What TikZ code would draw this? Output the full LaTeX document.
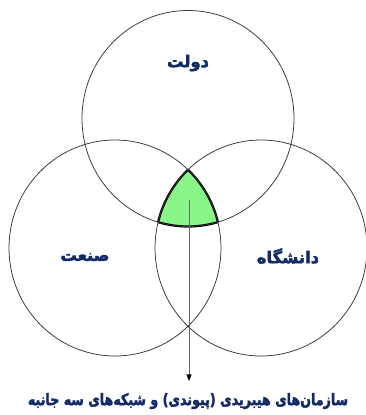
\documentclass[tikz,border=0pt]{standalone}
\usepackage{fontspec}
\usepackage{xcolor}
\usepackage{tikz}
\usetikzlibrary{arrows.meta, positioning}
\TeXXeTstate=1
\newfontfamily\arabicfont[Script=Arabic, BoldFeatures={FakeBold=2.5}]{DejaVu Sans}
\definecolor{labelInk}{RGB}{18,42,102}
\definecolor{coreFill}{RGB}{136,246,136}
\definecolor{ringLine}{RGB}{55,55,55}
\tikzset{
  ring/.style={draw=ringLine, line width=0.65pt},
  core/.style={fill=coreFill},
  coreEdge/.style={draw=black, line width=1.9pt},
  sector/.style={font=\arabicfont\bfseries\fontsize{14}{16}\selectfont, text=labelInk, inner sep=1pt},
  caption/.style={font=\arabicfont\bfseries\fontsize{13.5}{16}\selectfont, text=labelInk, inner sep=1pt},
  pointer/.style={-{Triangle[length=2mm,width=1.5mm,black]}, draw=black!60, line width=0.6pt}
}

\begin{document}
\begin{tikzpicture}[x=0.03cm, y=-0.03cm]
  \useasboundingbox (0,0) rectangle (366,415);

  \coordinate (govC) at (188,118.5);
  \coordinate (indC) at (115,248);
  \coordinate (uniC) at (261,248);
  \def\ringRx{106}
  \def\ringRy{108}

  % overlap of all three
  \begin{scope}
    \clip (govC) ellipse ({\ringRx} and {\ringRy});
    \clip (indC) ellipse ({\ringRx} and {\ringRy});
    \fill[core] (uniC) ellipse ({\ringRx} and {\ringRy});
  \end{scope}
  \begin{scope}
    \clip (indC) ellipse ({\ringRx} and {\ringRy});
    \clip (uniC) ellipse ({\ringRx} and {\ringRy});
    \draw[coreEdge] (govC) ellipse ({\ringRx} and {\ringRy});
  \end{scope}
  \begin{scope}
    \clip (govC) ellipse ({\ringRx} and {\ringRy});
    \clip (uniC) ellipse ({\ringRx} and {\ringRy});
    \draw[coreEdge] (indC) ellipse ({\ringRx} and {\ringRy});
  \end{scope}
  \begin{scope}
    \clip (govC) ellipse ({\ringRx} and {\ringRy});
    \clip (indC) ellipse ({\ringRx} and {\ringRy});
    \draw[coreEdge] (uniC) ellipse ({\ringRx} and {\ringRy});
  \end{scope}

  \draw[ring] (govC) ellipse ({\ringRx} and {\ringRy});
  \draw[ring] (indC) ellipse ({\ringRx} and {\ringRy});
  \draw[ring] (uniC) ellipse ({\ringRx} and {\ringRy});

  \node[sector] (gov) at (188,63) {\beginR دولت\endR};
  \node[sector] (ind) at (85,257) {\beginR صنعت\endR};
  \node[sector] (uni) at (288,256) {\beginR دانشگاه\endR};

  \coordinate (coreTip) at (189,200);
  \node[caption] (hybrid) at (188,401) {\scalebox{0.8}[1]{\beginR سازمان‌های هیبریدی (پیوندی) و شبکه‌های سه جانبه\endR}};

  \draw[pointer, shorten >=9pt] (coreTip) -- (coreTip |- hybrid.north);
\end{tikzpicture}
\end{document}
